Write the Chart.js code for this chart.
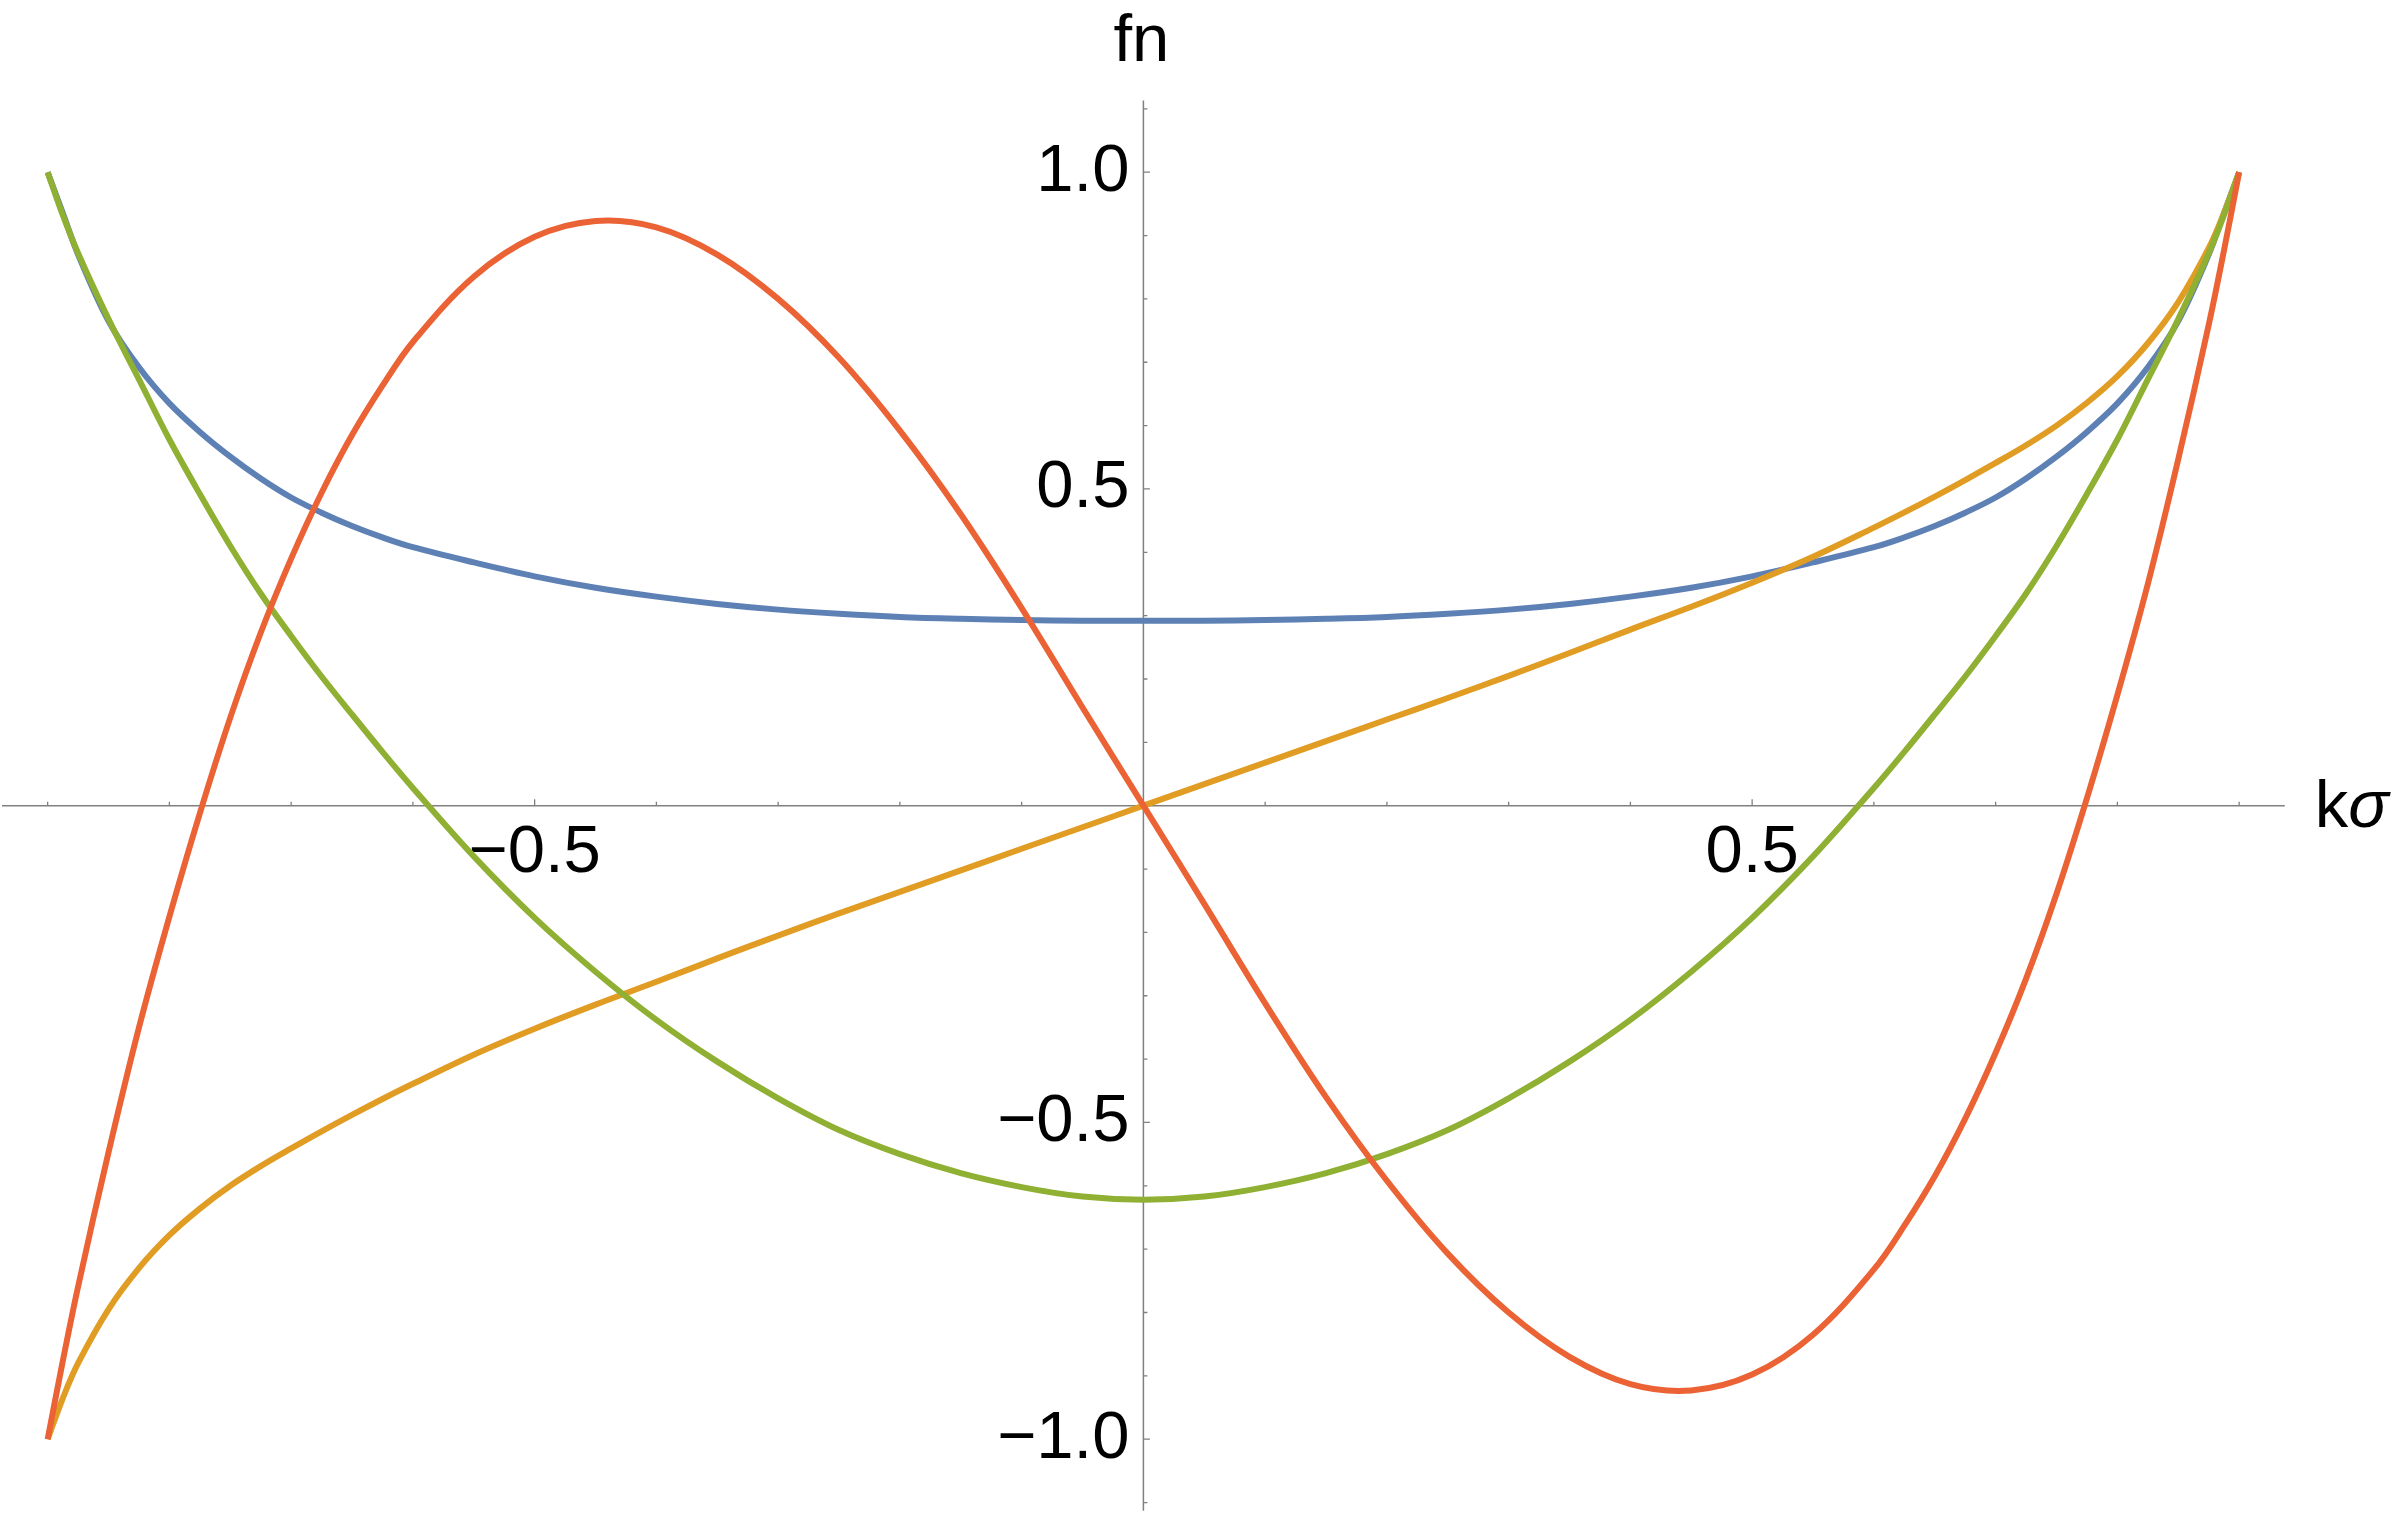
<!DOCTYPE html>
<html>
<head>
<meta charset="utf-8">
<script src="https://cdn.jsdelivr.net/npm/chart.js@4/dist/chart.umd.min.js"></script>
<style>
html, body { margin: 0; padding: 0; background: #ffffff; }
#wrap { width: 2400px; height: 1514px; }
</style>
</head>
<body>
<div id="wrap"><canvas id="c" width="2400" height="1514"></canvas></div>
<script>
// ---- data ----
const kSigma = [-0.9, -0.8875, -0.875, -0.85, -0.825, -0.8, -0.775, -0.75, -0.725, -0.7,
  -0.675, -0.65, -0.625, -0.6, -0.55, -0.5, -0.45, -0.4, -0.35, -0.3,
  -0.25, -0.2, -0.15, -0.1, -0.05, 0, 0.05, 0.1, 0.15, 0.2,
  0.25, 0.3, 0.35, 0.4, 0.45, 0.5, 0.55, 0.6, 0.625, 0.65,
  0.675, 0.7, 0.725, 0.75, 0.775, 0.8, 0.825, 0.85, 0.875, 0.8875, 0.9];

const f0 = [1.0, 0.935, 0.870, 0.765, 0.692, 0.635, 0.590, 0.551, 0.5165, 0.4865,
  0.4625, 0.4415, 0.4235, 0.408, 0.384, 0.362, 0.344, 0.330, 0.3185, 0.3095,
  0.303, 0.298, 0.295, 0.293, 0.292, 0.292, 0.292, 0.293, 0.295, 0.298,
  0.303, 0.3095, 0.3185, 0.330, 0.344, 0.362, 0.384, 0.408, 0.4235, 0.4415,
  0.4625, 0.4865, 0.5165, 0.551, 0.590, 0.635, 0.692, 0.765, 0.870, 0.935, 1.0];

const f1 = [-1.0, -0.935, -0.880, -0.795, -0.730, -0.678, -0.636, -0.600, -0.569, -0.541,
  -0.514, -0.488, -0.463, -0.439, -0.393, -0.352, -0.314, -0.278, -0.241, -0.205,
  -0.170, -0.136, -0.102, -0.068, -0.034, 0, 0.034, 0.068, 0.102, 0.136,
  0.170, 0.205, 0.241, 0.278, 0.314, 0.352, 0.393, 0.439, 0.463, 0.488,
  0.514, 0.541, 0.569, 0.600, 0.636, 0.678, 0.730, 0.795, 0.880, 0.935, 1.0];

const f2 = [1.0, 0.932, 0.872, 0.768, 0.673, 0.578, 0.492, 0.410, 0.335, 0.268,
  0.204, 0.144, 0.085, 0.028, -0.080, -0.177, -0.262, -0.338, -0.404, -0.462,
  -0.512, -0.550, -0.580, -0.602, -0.617, -0.622, -0.617, -0.602, -0.580, -0.550,
  -0.512, -0.462, -0.404, -0.338, -0.262, -0.177, -0.080, 0.028, 0.085, 0.144,
  0.204, 0.268, 0.335, 0.410, 0.492, 0.578, 0.673, 0.768, 0.872, 0.932, 1.0];

const f3 = [-1.0, -0.876, -0.759, -0.547, -0.35, -0.175, -0.012, 0.139, 0.273, 0.39,
  0.494, 0.585, 0.663, 0.732, 0.835, 0.898, 0.923, 0.913, 0.87, 0.80,
  0.707, 0.592, 0.46, 0.312, 0.155, 0, -0.155, -0.312, -0.46, -0.592,
  -0.707, -0.80, -0.87, -0.913, -0.923, -0.898, -0.835, -0.732, -0.663, -0.585,
  -0.494, -0.39, -0.273, -0.139, 0.012, 0.175, 0.35, 0.547, 0.759, 0.876, 1.0];

const xTickValues = [-0.5, 0.5];
const xTickLabels = ['\u22120.5', '0.5'];
const yTickValues = [-1.0, -0.5, 0.5, 1.0];
const yTickLabels = ['\u22121.0', '\u22120.5', '0.5', '1.0'];
const xMinorTicks = [-0.9, -0.8, -0.7, -0.6, -0.5, -0.4, -0.3, -0.2, -0.1, 0.1, 0.2, 0.3, 0.4, 0.5, 0.6, 0.7, 0.8, 0.9];
const yMinorTicks = [-1.1, -1.0, -0.9, -0.8, -0.7, -0.6, -0.5, -0.4, -0.3, -0.2, -0.1, 0.1, 0.2, 0.3, 0.4, 0.5, 0.6, 0.7, 0.8, 0.9, 1.0, 1.1];
const majorTicks = [-1.0, -0.5, 0.5, 1.0];
const xAxisTitle = 'k';
const xAxisTitleGreek = '\u03C3';
const yAxisTitle = 'fn';

// ---- styling ----
const COLORS = ['#5E81B5', '#E19C24', '#8FB032', '#EB6235'];
const FONT = '"Liberation Sans", Arial, Helvetica, sans-serif';
const AXIS_COLOR = '#808080';

function pts(ys) { return kSigma.map((x, i) => ({ x: x, y: ys[i] })); }

const series = [f0, f1, f2, f3];
const datasets = series.map((ys, i) => ({
  data: pts(ys),
  borderColor: COLORS[i],
  backgroundColor: COLORS[i],
  borderWidth: 6,
  pointRadius: 0,
  pointHoverRadius: 0,
  fill: false,
  tension: 0.35,
  borderJoinStyle: 'round',
  order: 4 - i
}));

function isMajor(v) { return majorTicks.some(m => Math.abs(m - v) < 1e-9); }

const axesPlugin = {
  id: 'mmaAxes',
  beforeDatasetsDraw(chart) {
    const ctx = chart.ctx;
    const xs = chart.scales.x, ys = chart.scales.y;
    const x0 = xs.getPixelForValue(0);
    const y0 = ys.getPixelForValue(0);
    ctx.save();
    ctx.strokeStyle = AXIS_COLOR;
    ctx.lineWidth = 1.5;
    ctx.beginPath();
    ctx.moveTo(xs.left, y0); ctx.lineTo(xs.right, y0);
    ctx.moveTo(x0, ys.top); ctx.lineTo(x0, ys.bottom);
    ctx.stroke();
    ctx.lineWidth = 1.3;
    ctx.beginPath();
    xMinorTicks.forEach(v => {
      const p = xs.getPixelForValue(v);
      const len = isMajor(v) ? 6.5 : 4;
      ctx.moveTo(p, y0); ctx.lineTo(p, y0 - len);
    });
    yMinorTicks.forEach(v => {
      const p = ys.getPixelForValue(v);
      const len = isMajor(v) ? 6.5 : 4;
      ctx.moveTo(x0, p); ctx.lineTo(x0 + len, p);
    });
    ctx.stroke();
    // axis titles
    ctx.fillStyle = '#000';
    ctx.font = '67px ' + FONT;
    ctx.textBaseline = 'alphabetic';
    ctx.textAlign = 'center';
    ctx.fillText(yAxisTitle, x0 - 2, ys.top - 40);
    ctx.textAlign = 'left';
    const kx = xs.right + 30;
    const by = y0 + 21.5;
    ctx.fillText(xAxisTitle, kx, by);
    const kw = ctx.measureText(xAxisTitle).width;
    ctx.font = 'italic 67px ' + FONT;
    ctx.fillText(xAxisTitleGreek, kx + kw, by);
    ctx.restore();
  }
};

function zeroPad(s) { s.paddingLeft = 0; s.paddingRight = 0; s.paddingTop = 0; s.paddingBottom = 0; }

new Chart(document.getElementById('c'), {
  type: 'line',
  data: { datasets: datasets },
  options: {
    responsive: false,
    devicePixelRatio: 1,
    animation: false,
    events: [],
    layout: { padding: { left: 2, right: 115.2, top: 100.6, bottom: 3.2 } },
    plugins: { legend: { display: false }, tooltip: { enabled: false } },
    scales: {
      x: {
        type: 'linear',
        position: 'center',
        min: -0.9375,
        max: 0.9375,
        afterBuildTicks: s => { s.ticks = xTickValues.map(v => ({ value: v })); },
        afterFit: zeroPad,
        grid: { display: false, drawTicks: false },
        border: { display: false },
        ticks: {
          autoSkip: false, maxRotation: 0, minRotation: 0,
          padding: 8,
          color: '#000',
          font: { family: FONT, size: 67 },
          callback: (v) => { const i = xTickValues.findIndex(t => Math.abs(t - v) < 1e-9); return i >= 0 ? xTickLabels[i] : ''; }
        }
      },
      y: {
        type: 'linear',
        position: 'center',
        min: -1.113,
        max: 1.113,
        afterBuildTicks: s => { s.ticks = yTickValues.map(v => ({ value: v })); },
        afterFit: zeroPad,
        grid: { display: false, drawTicks: false },
        border: { display: false },
        ticks: {
          autoSkip: false,
          padding: 14,
          color: '#000',
          font: { family: FONT, size: 67 },
          callback: (v) => { const i = yTickValues.findIndex(t => Math.abs(t - v) < 1e-9); return i >= 0 ? yTickLabels[i] : ''; }
        }
      }
    }
  },
  plugins: [axesPlugin]
});
</script>
</body>
</html>
